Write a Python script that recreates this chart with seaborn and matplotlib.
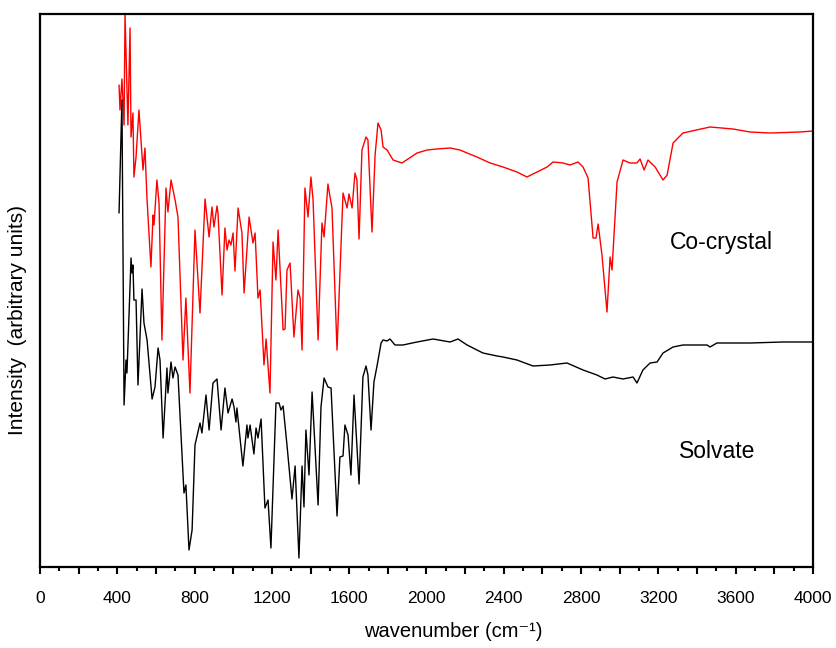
import numpy as np
import pandas as pd
import matplotlib
matplotlib.use("Agg")
import matplotlib.pyplot as plt
import seaborn as sns
from matplotlib.ticker import MultipleLocator, FuncFormatter

# ---- data (wavenumber in cm-1, intensity in arbitrary units) ----
cocrystal_wn = [409, 414, 424, 435, 440, 455, 466, 471, 481, 486, 497, 512, 533, 543, 554,
                574, 585, 590, 605, 616, 631, 652, 662, 678, 699, 714, 740, 755, 776, 802,
                828, 854, 875, 890, 900, 916, 921, 942, 957, 968, 978, 988, 999, 1009, 1025,
                1045, 1056, 1082, 1102, 1113, 1128, 1139, 1159, 1170, 1190, 1206, 1221, 1232,
                1258, 1268, 1278, 1294, 1314, 1335, 1346, 1356, 1371, 1387, 1402, 1413, 1439,
                1459, 1470, 1490, 1501, 1511, 1537, 1568, 1589, 1599, 1615, 1630, 1640, 1651,
                1666, 1687, 1697, 1718, 1734, 1749, 1765, 1775, 1796, 1827, 1873, 1951, 2003,
                2054, 2122, 2173, 2210, 2261, 2329, 2396, 2468, 2520, 2572, 2624, 2655, 2706,
                2743, 2784, 2810, 2836, 2862, 2877, 2888, 2908, 2934, 2950, 2960, 2986, 3017,
                3053, 3089, 3105, 3126, 3146, 3183, 3224, 3245, 3276, 3312, 3327, 3467, 3586,
                3674, 3778, 3933, 4000]
cocrystal_int = [482, 457, 488, 442, 553, 442, 539, 430, 454, 390, 410, 457, 397, 419, 367,
                 300, 352, 342, 387, 364, 227, 379, 355, 387, 367, 350, 207, 269, 174, 337,
                 254, 368, 330, 360, 340, 361, 354, 272, 339, 317, 327, 322, 334, 296, 359,
                 334, 274, 350, 324, 334, 269, 277, 202, 228, 174, 325, 287, 337,
                 237, 238, 297, 304, 230, 277, 269, 217, 379, 350, 390, 367, 227,
                 344, 330, 383, 370, 359, 217, 374, 359, 373, 359, 394, 387, 328,
                 417, 430, 427, 335, 412, 444, 437, 420, 417, 407, 404, 414, 417,
                 418, 419, 417, 414, 410, 404, 400, 395, 390, 395, 400, 405, 404,
                 402, 405, 400, 389, 329, 329, 343, 312, 255, 310, 297, 385, 407,
                 404, 404, 408, 397, 407, 400, 387, 392, 424, 431, 434, 440, 438,
                 435, 434, 435, 436]

solvate_wn = [409, 424, 435, 445, 450, 471, 476, 481, 486, 497, 507, 528, 538, 554, 580,
              595, 611, 621, 637, 657, 662, 678, 688, 699, 714, 745, 755, 771, 787, 802,
              828, 838, 859, 875, 895, 916, 937, 957, 973, 994, 1004, 1014, 1019, 1050,
              1071, 1076, 1087, 1107, 1118, 1128, 1144, 1164, 1180, 1195, 1221, 1237, 1247,
              1258, 1278, 1304, 1320, 1340, 1356, 1366, 1376, 1392, 1408, 1439, 1454, 1470,
              1490, 1506, 1537, 1552, 1568, 1578, 1594, 1609, 1625, 1651, 1671, 1687, 1697,
              1713, 1728, 1744, 1765, 1775, 1796, 1811, 1837, 1878, 1951, 2034, 2122, 2163,
              2210, 2261, 2292, 2365, 2396, 2468, 2551, 2639, 2727, 2810, 2882, 2924, 2965,
              3017, 3069, 3089, 3120, 3157, 3193, 3224, 3276, 3327, 3452, 3467, 3503, 3674,
              3845, 4000]
solvate_int = [354, 467, 162, 207, 194, 309, 294, 302, 267, 267, 182, 278, 244, 227, 168,
               180, 219, 207, 129, 199, 174, 205, 189, 200, 192, 74, 82, 17, 37, 122,
               144, 134, 172, 137, 184, 188, 137, 179, 154, 168, 160, 145, 159, 101,
               142, 129, 142, 113, 139, 129, 148, 59, 67, 19, 164, 164, 157,
               161, 122, 68, 101, 9, 101, 60, 137, 92, 175, 62, 160, 189,
               180, 179, 51, 110, 111, 142, 132, 92, 172, 83, 190, 201, 192,
               137, 185, 201, 224, 227, 226, 228, 222, 222, 225, 228, 225, 228,
               222, 217, 214, 211, 210, 207, 201, 202, 204, 197, 192, 188, 190,
               188, 190, 184, 197, 204, 205, 214, 220, 222, 222, 220, 224, 224,
               225, 225]

series_names = ["Co-crystal", "Solvate"]
series_colors = ["#ff0000", "#000000"]
x_ticks = [0, 400, 800, 1200, 1600, 2000, 2400, 2800, 3200, 3600, 4000]

df = pd.concat([
    pd.DataFrame({"wavenumber": cocrystal_wn, "intensity": cocrystal_int, "sample": series_names[0]}),
    pd.DataFrame({"wavenumber": solvate_wn, "intensity": solvate_int, "sample": series_names[1]}),
], ignore_index=True)

sns.set_theme(style="ticks")
plt.rcParams["font.family"] = ["Liberation Sans", "DejaVu Sans"]
plt.rcParams["text.color"] = "black"
plt.rcParams["axes.labelcolor"] = "black"
plt.rcParams["xtick.color"] = "black"

fig = plt.figure(figsize=(8.37, 6.48), dpi=100)
ax = fig.add_axes([40 / 837, 1 - 567 / 648, (813 - 40) / 837, (567 - 14) / 648])

sns.lineplot(data=df, x="wavenumber", y="intensity", hue="sample",
             estimator=None, sort=False, palette=dict(zip(series_names, series_colors)),
             linewidth=1.0, legend=False, ax=ax)

ax.set_xlim(0, 4000)
ax.set_ylim(0, 553)
ax.set_yticks([])
ax.xaxis.set_major_locator(MultipleLocator(200))
ax.xaxis.set_minor_locator(MultipleLocator(100))
ax.xaxis.set_major_formatter(FuncFormatter(lambda v, p: f"{int(round(v))}" if int(round(v)) in x_ticks else ""))
ax.tick_params(axis="x", which="major", length=5, width=1.5, direction="out", labelsize=12.5, pad=12)
ax.tick_params(axis="x", which="minor", length=3, width=1.5, direction="out")
for s in ax.spines.values():
    s.set_linewidth(1.6)
    s.set_color("black")

ax.set_xlabel("wavenumber (cm\u207b\u00b9)", fontsize=14.5)
ax.set_ylabel("Intensity  (arbitrary units)", fontsize=15)
ax.xaxis.set_label_coords(0.534, -0.100)
ax.yaxis.set_label_coords(-0.017, 0.447)

ax.text(3260, 325, "Co-crystal", fontsize=16.5, ha="left", va="center")
ax.text(3307, 115, "Solvate", fontsize=16.5, ha="left", va="center")

fig.savefig("out.png", dpi=100)
